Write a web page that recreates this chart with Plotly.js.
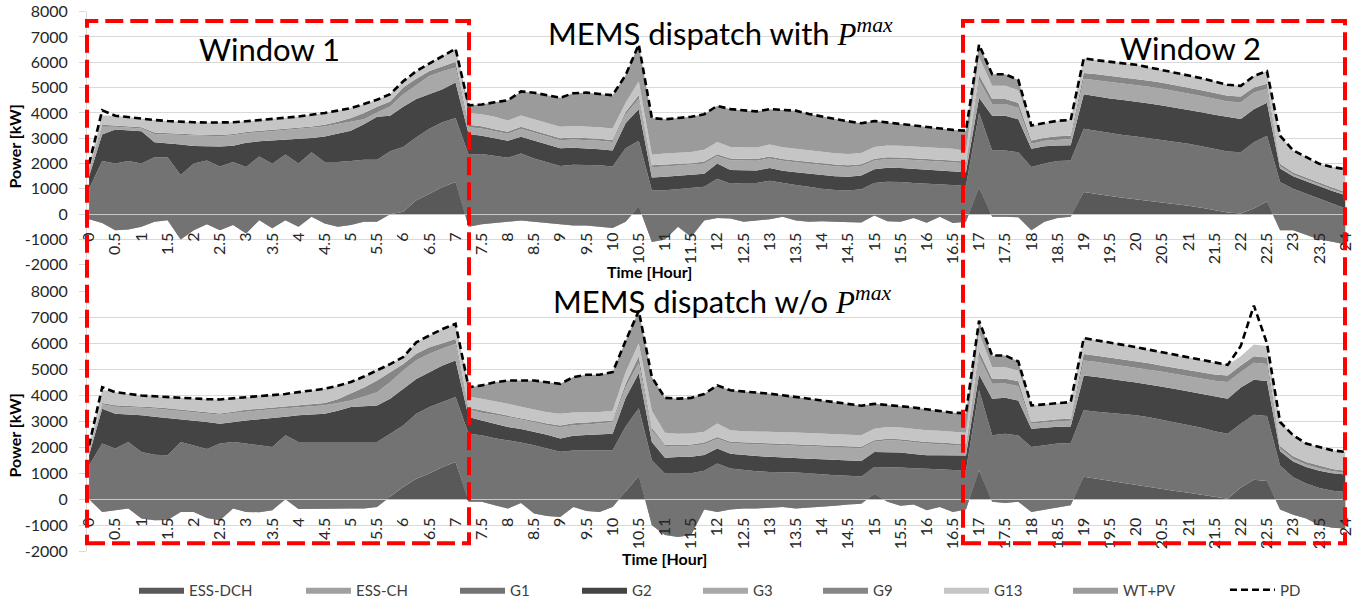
<!DOCTYPE html>
<html>
<head>
<meta charset="utf-8">
<script src="https://cdn.plot.ly/plotly-3.0.1.min.js"></script>
<style>
html,body{margin:0;padding:0;background:#fff;}
#chart{width:1369px;height:607px;}
</style>
</head>
<body>
<div id="chart"></div>
<script>
// ---------- DATA ----------
const time = [0,0.25,0.5,0.75,1,1.25,1.5,1.75,2,2.25,2.5,2.75,3,3.25,3.5,3.75,4,4.25,4.5,4.75,5,5.25,5.5,5.75,6,6.25,6.5,6.75,7,7.25,7.5,7.75,8,8.25,8.5,8.75,9,9.25,9.5,9.75,10,10.25,10.5,10.75,11,11.25,11.5,11.75,12,12.25,12.5,12.75,13,13.25,13.5,13.75,14,14.25,14.5,14.75,15,15.25,15.5,15.75,16,16.25,16.5,16.75,17,17.25,17.5,17.75,18,18.25,18.5,18.75,19,19.25,19.5,19.75,20,20.25,20.5,20.75,21,21.25,21.5,21.75,22,22.25,22.5,22.75,23,23.25,23.5,23.75,24];

const seriesNames = ['ESS-DCH','ESS-CH','G1','G2','G3','G9','G13','WT+PV'];

// Top chart: MEMS dispatch with P^max (kW)
const topDCH = [0,0,0,0,0,0,0,0,0,0,
0,0,0,0,0,0,0,0,0,0,
0,0,0,0,100,550,810,1070,1270,0,
0,0,0,0,0,0,0,0,0,0,
0,0,300,0,0,0,0,0,0,0,
0,0,0,0,0,0,0,0,0,0,
0,0,0,0,0,0,0,0,1050,0,
0,0,0,0,0,0,880,790,720,650,
590,520,460,390,330,250,160,70,30,220,
500,0,0,0,0,0,0];
const topCH = [-200,-350,-630,-600,-500,-300,-240,-1000,-630,-400,
-630,-430,-760,-240,-560,-240,-500,-100,-370,-500,
-430,-300,-300,0,0,0,0,0,0,-500,
-400,-350,-300,-250,-300,-350,-400,-450,-450,-500,
-550,-300,0,-1100,-1000,-500,-900,-250,-150,-170,
-300,-250,-200,-100,-250,-300,-280,-300,-300,-330,
-50,-280,-300,-150,-340,-100,-350,-300,0,-100,
-100,-120,-630,-300,-150,-100,0,0,0,0,
0,0,0,0,0,0,0,0,0,0,
0,-630,-630,-830,-1000,-1090,-1200];
const topG1 = [1200,2450,2630,2700,2500,2550,2490,2550,2630,2520,
2510,2490,2620,2520,2550,2600,2500,2550,2430,2560,
2530,2450,2450,2490,2550,2490,2560,2560,2530,2850,
2780,2650,2530,2650,2500,2400,2300,2400,2400,2430,
2430,2900,2600,2050,1950,1500,1930,1330,1550,1370,
1530,1480,1520,1320,1400,1380,1280,1260,1240,1320,
1280,1560,1570,1380,1540,1270,1490,1420,2950,2620,
2620,2570,2490,2300,2250,2220,2490,2490,2480,2480,
2480,2480,2470,2460,2450,2430,2420,2410,2420,2620,
2600,1900,1630,1630,1600,1490,1420];
const topG2 = [500,1050,1350,1230,1280,590,550,1200,690,550,
790,640,960,600,920,580,970,560,1010,1110,
1200,1400,1700,1400,1590,1510,1370,1310,1400,820,
720,700,670,660,700,700,700,670,650,640,
640,1000,1250,500,530,520,520,520,600,550,
510,500,500,500,510,520,530,540,540,540,
550,550,550,560,570,560,560,540,600,1370,
1370,1300,720,680,610,600,1370,1370,1370,1380,
1380,1370,1360,1360,1350,1350,1350,1350,1310,1310,
1300,530,500,500,500,520,530];
const topG3 = [250,300,100,90,100,330,350,370,410,410,
410,420,380,360,370,370,380,390,390,390,
350,200,170,360,500,550,720,710,590,260,
280,280,280,310,320,320,320,330,330,330,
330,350,400,400,400,400,390,400,300,380,
380,380,380,390,390,390,400,390,380,370,
340,350,350,350,350,360,350,340,700,460,
460,450,200,220,240,250,610,640,660,660,
660,660,660,650,640,640,630,620,660,660,
550,100,70,70,60,60,60];
const topG9 = [50,80,50,50,50,60,50,50,50,50,
50,50,50,50,50,60,60,60,70,90,
150,250,220,200,260,250,200,200,230,100,
90,80,80,80,80,80,80,80,80,80,
80,100,150,80,80,70,70,80,70,70,
70,70,80,70,70,70,70,70,70,70,
70,70,70,70,70,70,70,70,200,200,
200,200,130,120,130,130,230,240,240,240,
250,240,240,240,230,230,230,230,230,190,
200,90,80,70,70,70,70];
const topG13 = [190,370,390,360,330,490,480,480,480,490,
490,460,420,420,430,440,450,460,470,440,
390,350,280,290,250,300,290,400,520,470,
480,490,440,450,450,450,450,450,450,450,
450,350,550,420,440,440,450,470,480,450,
450,450,470,460,460,460,450,450,450,450,
460,460,460,460,460,460,460,430,700,520,
520,500,590,580,610,620,580,550,550,550,
540,530,510,500,500,470,450,430,420,460,
500,1110,870,810,760,810,900];
const topWT = [0,0,0,0,0,0,0,0,0,0,
0,0,0,0,0,0,0,0,0,0,
0,0,0,0,0,0,0,0,0,300,
380,570,800,950,1050,1100,1150,1300,1340,1320,
1320,1100,1450,1450,1350,1370,1390,1400,1430,1500,
1470,1430,1400,1480,1510,1440,1400,1350,1290,1170,
1030,910,860,830,780,750,750,800,500,460,
460,400,0,0,0,0,0,0,0,0,
0,0,0,0,0,0,0,0,0,0,
0,0,0,0,0,0,0];
const topPD = [1990,4100,3890,3830,3760,3720,3680,3650,3630,3620,
3620,3630,3670,3710,3760,3810,3860,3920,4000,4090,
4190,4350,4520,4740,5250,5650,5950,6250,6540,4300,
4330,4420,4500,4850,4800,4700,4600,4780,4800,4750,
4700,5500,6700,3800,3750,3800,3850,3950,4280,4150,
4110,4060,4150,4120,4090,3960,3850,3760,3670,3590,
3680,3620,3560,3500,3430,3370,3330,3300,6700,5530,
5530,5300,3500,3600,3690,3720,6160,6080,6020,5960,
5900,5800,5700,5600,5500,5370,5240,5110,5070,5460,
5650,3100,2520,2250,1990,1860,1780];

// Bottom chart: MEMS dispatch w/o P^max (kW)
const botDCH = [0,0,0,0,0,0,0,0,0,0,
0,0,0,0,0,0,0,0,0,0,
0,0,0,90,470,790,990,1240,1430,0,
0,0,0,0,0,0,0,0,0,0,
0,300,900,0,0,0,0,0,0,0,
0,0,0,0,0,0,0,0,0,0,
200,0,0,0,0,0,0,0,1110,0,
0,0,0,0,0,0,860,780,700,620,
540,470,400,320,250,170,90,20,450,750,
700,0,0,0,0,0,0];
const botCH = [0,-490,-420,-360,-740,-810,-800,-490,-490,-720,
-810,-360,-490,-500,-420,0,-380,-370,-360,-360,
-360,-360,-300,0,0,0,0,0,0,-100,
-100,-230,-360,-150,-550,-650,-680,-300,-450,-490,
-300,0,0,-1000,-1380,-1450,-1380,-400,-490,-400,
-360,-360,-330,-300,-360,-330,-300,-250,-200,-170,
0,-100,-250,-200,-420,-300,-490,-400,0,-100,
-150,-100,-490,-400,-300,-230,0,0,0,0,
0,0,0,0,0,0,0,0,0,0,
0,-400,-600,-740,-1000,-1100,-1130];
const botG1 = [1300,2630,2370,2560,2560,2520,2490,2690,2560,2650,
2950,2560,2630,2570,2430,2460,2580,2570,2560,2560,
2560,2560,2500,2430,2370,2500,2560,2500,2500,2620,
2560,2580,2630,2330,2630,2610,2510,2170,2330,2370,
2180,2500,2600,2500,2370,2440,2380,1500,1860,1580,
1480,1440,1380,1350,1390,1330,1250,1170,1100,1040,
1040,1340,1470,1390,1600,1450,1610,1510,3090,2560,
2670,2550,2500,2480,2440,2380,2560,2590,2620,2650,
2690,2680,2650,2630,2600,2580,2530,2500,2450,2500,
2500,1700,1450,1340,1430,1430,1410];
const botG2 = [400,1340,1340,1060,1410,1460,1430,880,960,1040,
760,770,890,1010,1110,710,1030,1060,1090,1200,
1350,1380,1410,1350,1410,1340,1340,1410,1410,640,
570,550,510,520,520,520,510,570,590,610,
640,1100,1350,700,610,630,630,600,580,570,
580,580,580,550,550,560,590,590,590,600,
580,580,580,550,510,540,570,570,600,1410,
1380,1350,700,670,650,650,1340,1330,1320,1290,
1260,1270,1280,1290,1300,1310,1340,1350,1400,1350,
1350,550,600,640,670,670,670];
const botG3 = [150,170,270,290,290,320,330,320,320,330,
350,350,350,340,340,330,310,310,330,300,
250,370,510,630,700,720,710,650,640,290,
300,350,390,370,360,370,430,410,410,430,
440,400,400,450,450,420,430,420,380,400,
430,450,460,480,490,490,490,490,490,490,
390,450,450,450,450,430,400,380,700,570,
550,550,190,200,210,220,580,580,570,580,
580,580,580,580,580,580,600,640,600,650,
650,100,100,90,90,80,70];
const botG9 = [50,50,60,50,50,50,50,50,50,50,
50,50,60,60,60,60,60,70,80,150,
260,350,450,400,250,250,250,200,190,70,
90,70,60,60,60,60,70,70,70,70,
70,150,250,100,50,50,50,60,60,60,
60,60,60,60,60,60,60,60,60,60,
60,60,60,60,60,60,60,60,200,190,
190,200,70,80,80,80,250,240,240,240,
240,230,230,230,230,230,240,250,250,250,
250,100,100,100,90,80,80];
const botG13 = [170,500,500,460,420,420,430,450,470,500,
540,510,490,480,470,490,520,540,550,520,
450,420,380,300,270,440,450,550,580,430,
450,460,440,430,430,440,450,420,400,370,
370,450,500,650,460,430,420,420,520,440,
430,430,440,440,440,440,440,440,440,440,
440,450,450,450,450,450,450,440,700,450,
440,400,640,620,620,640,610,600,590,560,
540,520,500,490,480,480,470,410,350,450,
450,920,810,710,730,720,720];
const botWT = [0,0,0,0,0,0,0,0,0,0,
0,0,0,0,0,0,0,0,0,0,
0,0,0,0,0,0,0,0,0,360,
510,720,900,1010,1120,1150,1150,1360,1440,1430,
1490,1200,1250,1300,1340,1350,1370,1450,1470,1540,
1530,1500,1470,1420,1360,1320,1270,1230,1190,1140,
960,840,830,830,810,770,730,750,470,450,
450,350,0,0,0,0,0,0,0,0,
0,0,0,0,0,0,0,0,0,0,
0,0,0,0,0,0,0];
const botPD = [2070,4310,4120,4060,3990,3960,3930,3900,3870,3850,
3840,3880,3930,3960,3990,4050,4120,4180,4250,4370,
4510,4720,4950,5200,5470,6040,6300,6550,6750,4310,
4380,4500,4570,4570,4570,4500,4440,4700,4790,4790,
4890,6100,7250,4700,3900,3870,3900,4050,4380,4190,
4150,4100,4060,4000,3930,3870,3800,3730,3670,3600,
3670,3620,3590,3530,3460,3400,3330,3310,6870,5530,
5530,5300,3610,3650,3700,3740,6200,6120,6040,5940,
5850,5750,5640,5540,5440,5350,5270,5170,5900,7450,
6000,2970,2460,2140,2010,1880,1820];

const yTickVals = [-2000,-1000,0,1000,2000,3000,4000,5000,6000,7000,8000];
const yTickText = ['-2000','-1000','0','1000','2000','3000','4000','5000','6000','7000','8000'];

// ---------- STYLE / LAYOUT ----------
const W = 1369, H = 607;
const fx = p => p / W;
const fy = p => 1 - p / H;
const FONT = 'Lato, Calibri, Carlito, sans-serif';
const colors = ['#595959','#a0a0a0','#737373','#444444','#a8a8a8','#868686','#c5c5c5','#9b9b9b'];
const topSeries = [topDCH, topCH, topG1, topG2, topG3, topG9, topG13, topWT];
const botSeries = [botDCH, botCH, botG1, botG2, botG3, botG9, botG13, botWT];
const legendIds = ['legend','legend2','legend3','legend4','legend5','legend6','legend7','legend8','legend9'];
const legendLeftPx = [142,309,463,585,706,826,947,1076,1233];

const traces = [];
seriesNames.forEach((n, i) => {
  traces.push({
    type: 'scatter', x: time, y: topSeries[i], name: n,
    stackgroup: 'top', mode: 'lines', line: {width: 0, color: colors[i]},
    fillcolor: colors[i], xaxis: 'x', yaxis: 'y', legend: legendIds[i],
    hoverinfo: 'skip'
  });
});
traces.push({
  type: 'scatter', x: time, y: topPD, name: 'PD', mode: 'lines',
  line: {color: '#000', width: 2.6, dash: '7px,4px'},
  xaxis: 'x', yaxis: 'y', legend: legendIds[8], hoverinfo: 'skip'
});
seriesNames.forEach((n, i) => {
  traces.push({
    type: 'scatter', x: time, y: botSeries[i], name: n,
    stackgroup: 'bot', mode: 'lines', line: {width: 0, color: colors[i]},
    fillcolor: colors[i], xaxis: 'x2', yaxis: 'y2', showlegend: false,
    hoverinfo: 'skip'
  });
});
traces.push({
  type: 'scatter', x: time, y: botPD, name: 'PD', mode: 'lines',
  line: {color: '#000', width: 2.6, dash: '7px,4px'},
  xaxis: 'x2', yaxis: 'y2', showlegend: false, hoverinfo: 'skip'
});

const xDomain = [fx(87), fx(1345.5)];
const topY = [fy(265.7), fy(11.7)];
const botY = [fy(553), fy(292.3)];
const zeroPos = d => d[0] + (0 - (-2000)) / 10000 * (d[1] - d[0]);

const tickFont = {family: FONT, size: 16, color: '#262626'};
const xAxisBase = {
  domain: xDomain, range: [-0.04, 24], anchor: 'free',
  tickmode: 'linear', tick0: 0, dtick: 0.5, tickangle: -90,
  tickfont: tickFont, showgrid: false, zeroline: false,
  showline: true, linecolor: '#c8c8c8', linewidth: 1,
  ticks: '', ticklabelstandoff: 11, fixedrange: true
};
const yAxisBase = {
  range: [-2000, 8000], tickmode: 'array', tickvals: yTickVals, ticktext: yTickText,
  tickfont: tickFont, showgrid: true, gridcolor: '#d9d9d9', gridwidth: 1,
  zeroline: false, showline: true, linecolor: '#d9d9d9', linewidth: 1,
  ticks: 'outside', ticklen: 7, tickcolor: '#d9d9d9', ticklabelstandoff: 8,
  fixedrange: true
};

const mathP = '<span style="font-family:Liberation Serif"><i>P</i><sup><i>max</i></sup></span>';

const layout = {
  width: W, height: H,
  margin: {l: 0, r: 0, t: 0, b: 0, pad: 0},
  paper_bgcolor: '#ffffff', plot_bgcolor: 'rgba(0,0,0,0)',
  hovermode: false,
  font: {family: FONT, color: '#262626'},
  xaxis: Object.assign({}, xAxisBase, {position: zeroPos(topY)}),
  xaxis2: Object.assign({}, xAxisBase, {position: zeroPos(botY)}),
  yaxis: Object.assign({}, yAxisBase, {domain: topY, anchor: 'x'}),
  yaxis2: Object.assign({}, yAxisBase, {domain: botY, anchor: 'x2'}),
  shapes: [
    {type: 'rect', xref: 'paper', yref: 'paper', x0: fx(87), x1: fx(469), y0: fy(545), y1: fy(21),
     line: {color: '#ff0000', width: 4, dash: '18px,7px'}, fillcolor: 'rgba(0,0,0,0)', layer: 'above'},
    {type: 'rect', xref: 'paper', yref: 'paper', x0: fx(963), x1: fx(1345), y0: fy(545), y1: fy(21),
     line: {color: '#ff0000', width: 4, dash: '18px,7px'}, fillcolor: 'rgba(0,0,0,0)', layer: 'above'}
  ],
  annotations: [
    {text: 'MEMS dispatch with ' + mathP,
     x: fx(720), y: fy(33), xref: 'paper', yref: 'paper', showarrow: false,
     xanchor: 'center', yanchor: 'middle', font: {family: FONT, size: 31, color: '#000'}},
    {text: 'MEMS dispatch w/o ' + mathP,
     x: fx(722), y: fy(301), xref: 'paper', yref: 'paper', showarrow: false,
     xanchor: 'center', yanchor: 'middle', font: {family: FONT, size: 31, color: '#000'}},
    {text: 'Window 1', x: fx(269), y: fy(49), xref: 'paper', yref: 'paper', showarrow: false,
     xanchor: 'center', yanchor: 'middle', font: {family: FONT, size: 31, color: '#000'}},
    {text: 'Window 2', x: fx(1190), y: fy(48), xref: 'paper', yref: 'paper', showarrow: false,
     xanchor: 'center', yanchor: 'middle', font: {family: FONT, size: 31, color: '#000'}},
    {text: '<b>Time [Hour]</b>', x: fx(649), y: fy(272), xref: 'paper', yref: 'paper', showarrow: false,
     xanchor: 'center', yanchor: 'middle', font: {family: FONT, size: 16, color: '#000'}},
    {text: '<b>Time [Hour]</b>', x: fx(664), y: fy(560), xref: 'paper', yref: 'paper', showarrow: false,
     xanchor: 'center', yanchor: 'middle', font: {family: FONT, size: 16, color: '#000'}},
    {text: '<b>Power [kW]</b>', x: fx(15), y: fy(147), xref: 'paper', yref: 'paper', showarrow: false,
     textangle: -90, xanchor: 'center', yanchor: 'middle', font: {family: FONT, size: 16, color: '#000'}},
    {text: '<b>Power [kW]</b>', x: fx(15), y: fy(437), xref: 'paper', yref: 'paper', showarrow: false,
     textangle: -90, xanchor: 'center', yanchor: 'middle', font: {family: FONT, size: 16, color: '#000'}}
  ]
};

legendIds.forEach((id, i) => {
  layout[id] = {
    x: fx(legendLeftPx[i] - 8), y: fy(592), xanchor: 'left', yanchor: 'middle',
    orientation: 'h', bgcolor: 'rgba(0,0,0,0)', borderwidth: 0,
    itemwidth: 45, itemclick: false, itemdoubleclick: false,
    font: {family: FONT, size: 15, color: '#404040'}
  };
});

Plotly.newPlot('chart', traces, layout, {staticPlot: true, displayModeBar: false});
</script>
</body>
</html>
